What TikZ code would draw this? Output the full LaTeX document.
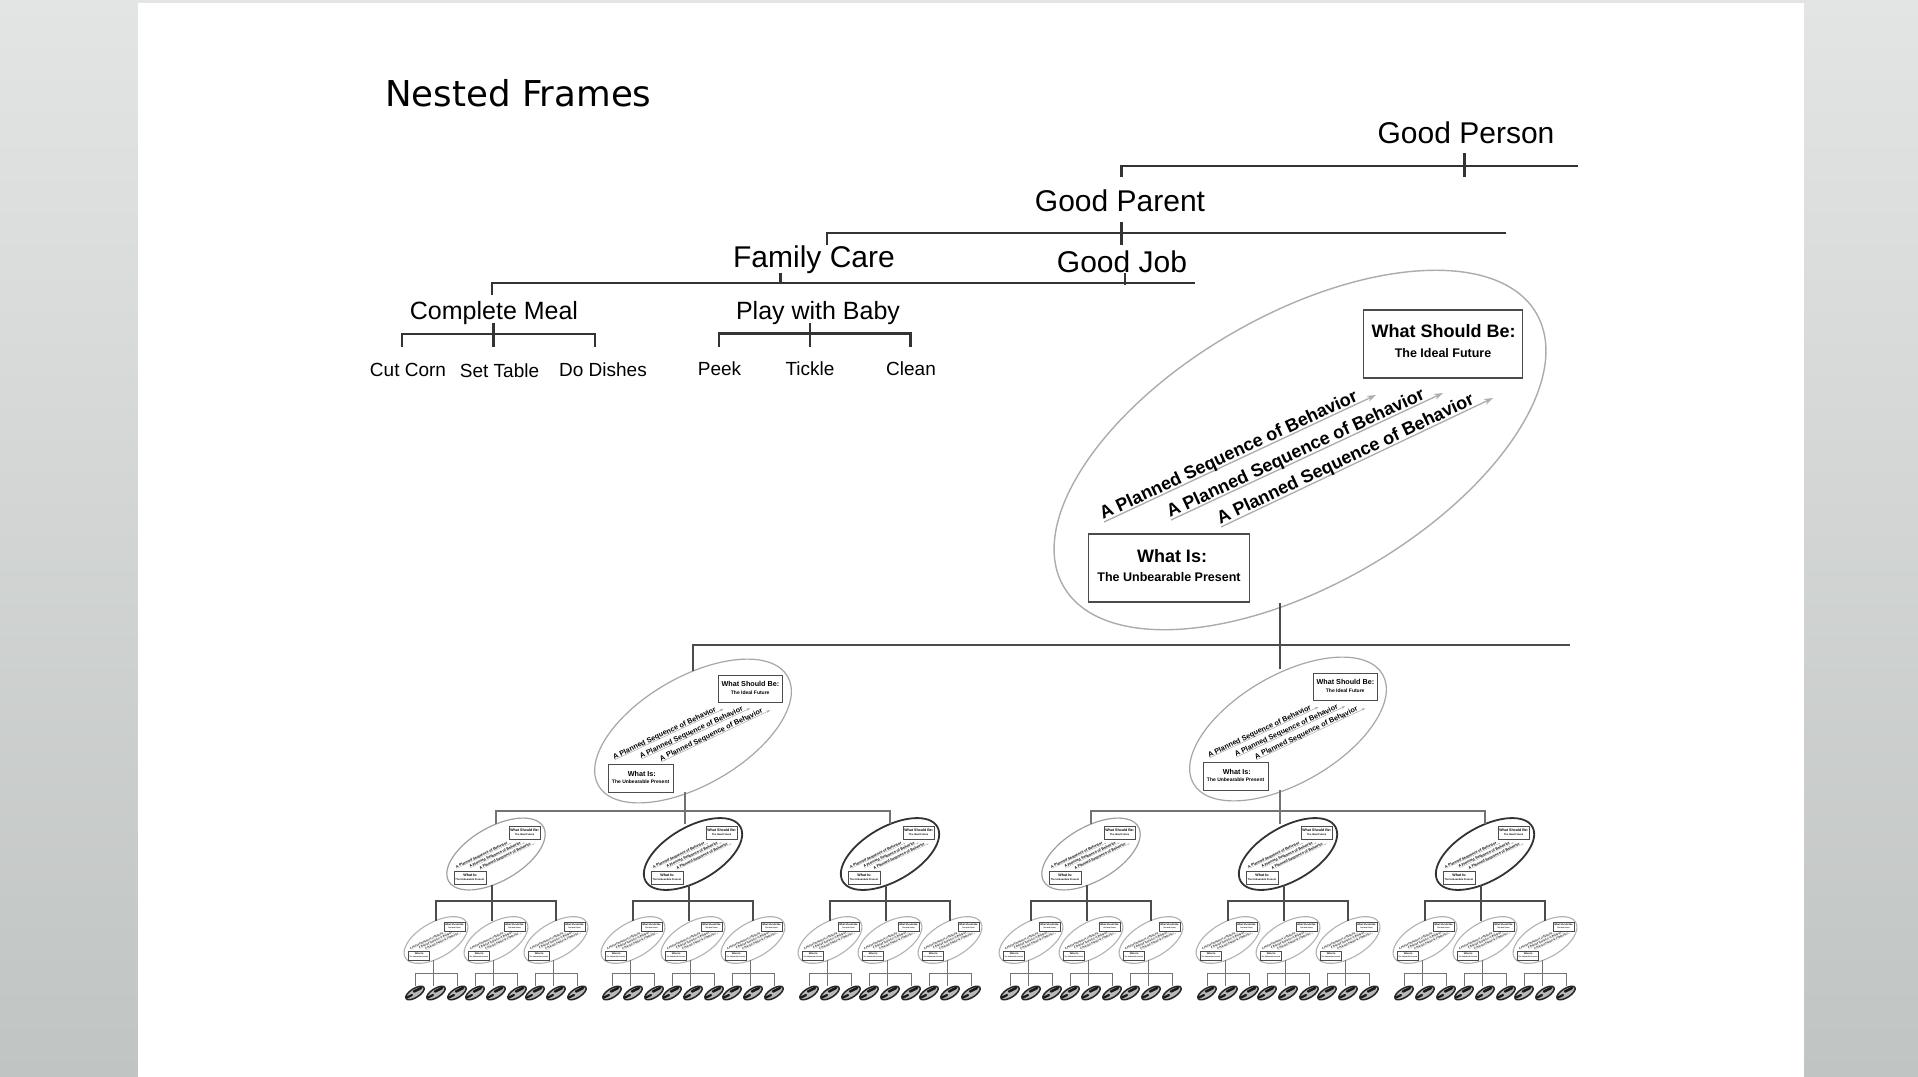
\documentclass[tikz,border=0pt]{standalone}
\usepackage{fontspec}
\setsansfont{Liberation Sans}
\newfontfamily\titlefont{DejaVu Sans}
\usetikzlibrary{arrows.meta}

\definecolor{slidegray}{RGB}{226,229,228}
\definecolor{slidedark}{RGB}{192,196,195}

\tikzset{
  rimink/.store in=\rimink, rimwd/.store in=\rimwd,
  rimink=gray!70, rimwd=1.3pt,
  slidetitle/.style={font=\titlefont\fontsize{35.6}{40}\selectfont, anchor=base west, inner sep=0pt},
  toplabel/.style={font=\sffamily\fontsize{30}{33}\selectfont, anchor=base, inner sep=0pt},
  midlabel/.style={font=\sffamily\fontsize{25}{28}\selectfont, anchor=base, inner sep=0pt},
  leaflabel/.style={font=\sffamily\fontsize{19}{22}\selectfont, anchor=base, inner sep=0pt},
  treeline/.style={draw=black!80, line width=2.2pt},
  busline/.style={draw=black!70, line width=2pt},
  thinbus/.style={draw=black!55, line width=1.2pt},
  twigline/.style={draw=black!55, line width=1pt},
  framerim/.style={draw=\rimink, line width=\rimwd},
  boxhead/.style={font=\sffamily\bfseries\fontsize{18}{20}\selectfont, inner sep=0pt},
  boxsub/.style={font=\sffamily\bfseries\fontsize{12.5}{14}\selectfont, inner sep=0pt},
  seqtext/.style={font=\sffamily\bfseries\fontsize{18}{20}\selectfont, sloped, above=-2pt, inner sep=0pt, pos=0.47},
  blobrim/.style={draw=black!85, line width=1.5pt, fill=gray!55},
  % one frame: what is -> planned sequences -> what should be
  nframe/.pic={
    \begin{scope}[scale=#1, transform shape]
      \draw[framerim] (0,0) ellipse [x radius=273, y radius=135, rotate=30];
      \node[draw=black!70, line width=#1*1.4pt, minimum width=159pt, minimum height=68pt, inner sep=0pt] (-goal) at (143,-106) {};
      \node[boxhead] (-goalhead) at (143.5,-118.5) {What Should Be:};
      \node[boxsub] (-goalsub) at (143,-96.5) {The Ideal Future};
      \node[draw=black!70, line width=#1*1.4pt, minimum width=161pt, minimum height=68pt, inner sep=0pt] (-now) at (-131,118) {};
      \node[boxhead] (-nowhead) at (-128,106.5) {What Is:};
      \node[boxsub] (-nowsub) at (-131,127) {The Unbearable Present};
      \draw[draw=gray!65, line width=#1*1.3pt, -{Stealth[length=9pt, width=6pt, scale=#1]}] (-196,72) -- node[seqtext] (-seqa) {A Planned Sequence of Behavior} (76,-55);
      \draw[draw=gray!65, line width=#1*1.3pt, -{Stealth[length=9pt, width=6pt, scale=#1]}] (-129,70) -- node[seqtext] (-seqb) {A Planned Sequence of Behavior} (143,-57);
      \draw[draw=gray!65, line width=#1*1.3pt, -{Stealth[length=9pt, width=6pt, scale=#1]}] (-79,77) -- node[seqtext] (-seqc) {A Planned Sequence of Behavior} (193,-52);
      \coordinate (-top) at (0,-150);
      \coordinate (-bot) at (-20,153);
    \end{scope}
  },
  nblob/.pic={
    \draw[blobrim] (0,0) ellipse [x radius=10.5, y radius=4.5, rotate=32];
    \draw[draw=black!90, line width=2.6pt, line cap=round] (-1,-1.5) -- (6,-5);
    \draw[draw=black!90, line width=2.2pt, line cap=round] (-8,4.5) -- (-3,2);
    \coordinate (-top) at (0,-7);
  },
}

\begin{document}
\begin{tikzpicture}[x=1pt, y=-1pt]
  \useasboundingbox (0,0) rectangle (1918,1076);
  % slide and side strips
  \fill[slidegray] (0,0) rectangle (1918,1076);
  \shade[top color=slidegray, bottom color=slidedark] (0,0) rectangle (138,1076);
  \shade[top color=slidegray, bottom color=slidedark] (1804,0) rectangle (1918,1076);
  \fill[white] (138,3) rectangle (1804,1076);

  \node[slidetitle] (title) at (385,106) {Nested Frames};

  % goal hierarchy
  \node[toplabel] (person) at (1466,143) {Good Person};
  \node[toplabel] (parent) at (1120,211) {Good Parent};
  \node[toplabel] (family) at (814,267) {Family Care};
  \node[toplabel] (job) at (1122,272) {Good Job};
  \node[midlabel] (meal) at (494,319) {Complete Meal};
  \node[midlabel] (baby) at (818,319) {Play with Baby};
  \node[leaflabel] (corn) at (408,376) {Cut Corn};
  \node[leaflabel] (table) at (499.5,377) {Set Table};
  \node[leaflabel] (dishes) at (603,376) {Do Dishes};
  \node[leaflabel] (peek) at (719.5,375) {Peek};
  \node[leaflabel] (tickle) at (810,375) {Tickle};
  \node[leaflabel] (clean) at (911,375) {Clean};

  \coordinate (personbar) at (1578,166);
  \coordinate (parentbar) at (1506,233);
  \coordinate (familybar) at (1195,283);
  \draw[treeline] (person.base) ++(-1.5,10) -- ++(0,24);
  \draw[treeline] (parent.base) ++(1.5,-34) |- (personbar);
  \draw[treeline] (parent.base) ++(1.5,11) -- ++(0,23);
  \draw[treeline] (family.base) ++(12.7,-22) |- (parentbar);
  \draw[treeline] (meal.base) ++(-2,-24) |- (familybar);
  \draw[treeline] (family.base) ++(-33.5,6) -- ++(0,10);
  \draw[treeline] (job.base) ++(3,1) -- ++(0,12);
  \path (corn.base) ++(-6,-29) coordinate (cornup) (dishes.base) ++(-8,-29) coordinate (dishesup);
  \draw[treeline] (cornup) -- ++(0,-13) -| (dishesup);
  \draw[treeline] (meal.base) ++(-0.5,4) -- ++(0,24);
  \path (peek.base) ++(-0.5,-28) coordinate (peekup) (clean.base) ++(-0.5,-28) coordinate (cleanup);
  \draw[treeline] (peekup) -- ++(0,-13.5) -| (cleanup);
  \draw[treeline] (baby.base) ++(-8,4) -- ++(0,24);

  % nested frames
  \pic[rimink=gray!65, rimwd=1.4pt] (L1) at (1300,450) {nframe=1};
  \pic[rimink=gray!70, rimwd=1.2pt] (L2a) at (693,731) {nframe=0.4};
  \pic[rimink=gray!70, rimwd=1.2pt] (L2b) at (1288,729) {nframe=0.4};
  \coordinate (busend) at (1570,645);
  \draw[busline] (L1-bot) -- (L1-bot |- L2b-top);
  \draw[busline] (L2a-top) |- (busend);

  \foreach \g/\gx in {a/693,b/1288}{
    \foreach \k/\dx/\rc/\rw in {1/-197/gray!75/1.2pt,2/0/black!80/1.8pt,3/197/black!80/1.8pt}{
      \pic[rimink=\rc, rimwd=\rw] (L3\g\k) at ({\gx+\dx},854) {nframe=0.2};
      \foreach \m/\ex in {1/-60,2/0,3/60}{
        \pic[rimink=gray!60, rimwd=1.1pt] (L4\g\k\m) at ({\gx+\dx+\ex},940) {nframe=0.13};
        \foreach \n/\fx in {1/-21,2/0,3/21}{
          \pic (L5\g\k\m\n) at ({\gx+\dx+\ex+\fx},993) {nblob};
        }
        \draw[twigline] (L5\g\k\m1-top) -- ++(0,-13) -| (L5\g\k\m3-top);
        \draw[twigline] (L4\g\k\m-bot) -- (L4\g\k\m-bot |- L5\g\k\m2-top);
      }
      \draw[busline] (L4\g\k1-top) -- ++(0,-20) -| (L4\g\k3-top);
      \draw[busline] (L3\g\k-bot) -- (L3\g\k-bot |- L4\g\k2-top);
    }
    \draw[thinbus] (L3\g1-top) -- ++(0,-13) -| (L3\g3-top);
    \draw[thinbus] (L2\g-bot) -- (L2\g-bot |- L3\g2-top);
  }
\end{tikzpicture}
\end{document}
